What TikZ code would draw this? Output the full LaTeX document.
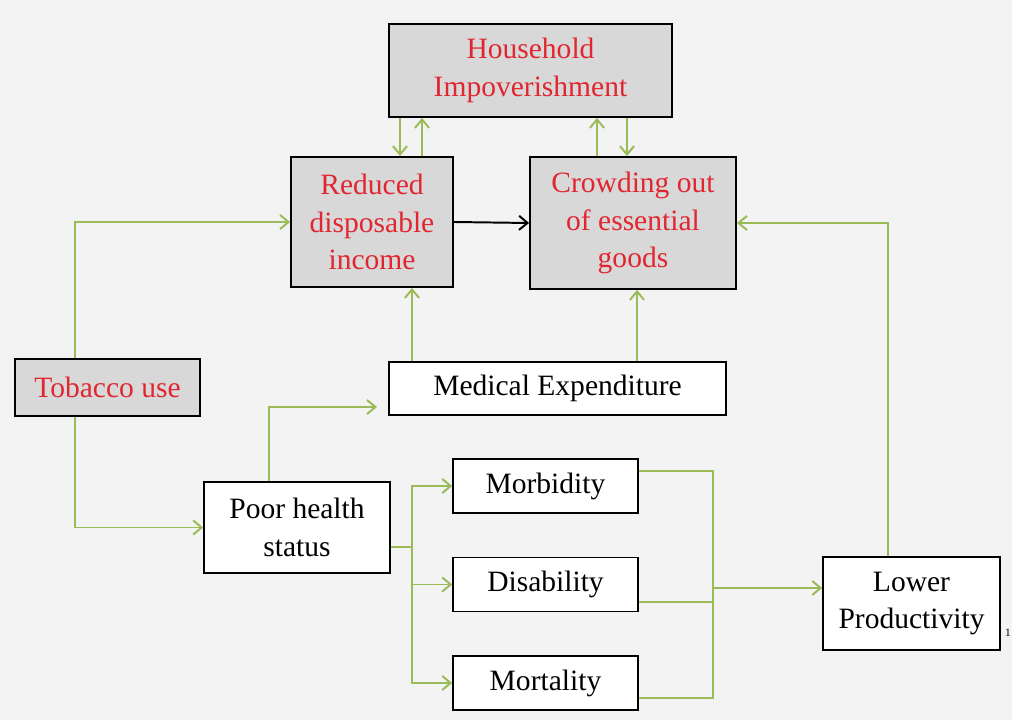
\documentclass[tikz,border=0pt]{standalone}
\usepackage{fontspec}
\setmainfont{Liberation Serif}
\usepackage{tikz}
\usetikzlibrary{arrows.meta,positioning,calc}
\definecolor{boxgray}{RGB}{216,216,216}
\definecolor{txtred}{RGB}{226,38,48}
\definecolor{olive}{RGB}{155,187,89}
\definecolor{slidebg}{RGB}{243,243,243}

\tikzset{
  redbox/.style={draw, line width=1.3pt, fill=boxgray, text=txtred, align=center, inner sep=0pt},
  plainbox/.style={draw, line width=1.1pt, fill=white, align=center, inner sep=0pt},
  flow/.style={draw=olive, line width=1.4pt, -{Straight Barb[length=6pt,width=10pt]}},
  flowline/.style={draw=olive, line width=1.4pt},
}

\begin{document}
\begin{tikzpicture}[x=0.025cm, y=-0.025cm, font=\fontsize{21}{26.5}\selectfont]
   \fill[slidebg] (0,0) rectangle (1012,720);
   \useasboundingbox (0,0) rectangle (1012,720);
   % top row
   \node[redbox, minimum width=7.075cm, minimum height=2.325cm] (house) at (530.5,70.5) {Household\\Impoverishment};
   \node[redbox, minimum width=4.05cm, minimum height=3.25cm] (income) at (372,222) {Reduced\\disposable\\income};
   \node[redbox, minimum width=5.15cm, minimum height=3.3cm] (crowd) at (633,223) {Crowding out\\of essential\\goods};
   % middle
   \node[redbox, minimum width=4.625cm, minimum height=1.425cm] (tobacco) at (107.5,387.5) {Tobacco use};
   \node[plainbox, minimum width=8.425cm, minimum height=1.325cm] (medexp) at (557.5,388.5) {Medical Expenditure};
   \node[plainbox, minimum width=4.65cm, minimum height=2.275cm] (health) at (297,527.5) {Poor health\\status};
   % outcomes
   \node[plainbox, minimum width=4.625cm, minimum height=1.35cm] (morb) at (545.5,486) {Morbidity};
   \node[plainbox, minimum width=4.625cm, minimum height=1.35cm] (disab) at (545.5,584.5) {Disability};
   \node[plainbox, minimum width=4.625cm, minimum height=1.35cm] (mort) at (545.5,683) {Mortality};
   \node[plainbox, minimum width=4.425cm, minimum height=2.325cm] (lowprod) at (911.5,603.5) {Lower\\Productivity};
   \node[font=\fontsize{8}{9}\selectfont, inner sep=0pt] (pagenum) at (1008,633) {1};

   % impoverishment loops
   \draw[flow] (house.south -| 400,0) -- (income.north -| 400,0);
   \draw[flow] (income.north -| 422,0) -- (house.south -| 422,0);
   \draw[flow] (crowd.north -| 597,0) -- (house.south -| 597,0);
   \draw[flow] (house.south -| 627,0) -- (crowd.north -| 627,0);
   \draw[line width=1.4pt, -{Straight Barb[length=6pt,width=10pt]}] (income.east) -- (crowd.west);
   % tobacco
   \draw[flow] (tobacco.north -| 75,0) |- (income.west);
   \draw[flow] (tobacco.south -| 75,0) |- (health.west);
   % expenditure
   \draw[flow] (medexp.north -| 412,0) -- (income.south -| 412,0);
   \draw[flow] (medexp.north -| 637,0) -- (crowd.south -| 637,0);
   \coordinate (medin) at (377,407);
   \draw[flow] (health.north -| 269,0) |- (medin);
   % health outcomes
   \coordinate (split) at (412,547);
   \draw[flowline] (health.east |- split) -- (split);
   \draw[flow] (split) |- (morb.west);
   \draw[flow] (split) |- (disab.west);
   \draw[flow] (split) |- (mort.west);
   \coordinate (join) at (713,588);
   \draw[flowline] (morb.east |- 0,471) -| (join);
   \draw[flowline] (disab.east |- 0,602) -| (join);
   \draw[flowline] (mort.east |- 0,698) -| (join);
   \draw[flow] (join) -- (lowprod.west |- join);
   \draw[flow] (lowprod.north -| 888,0) |- (crowd.east);
\end{tikzpicture}
\end{document}
